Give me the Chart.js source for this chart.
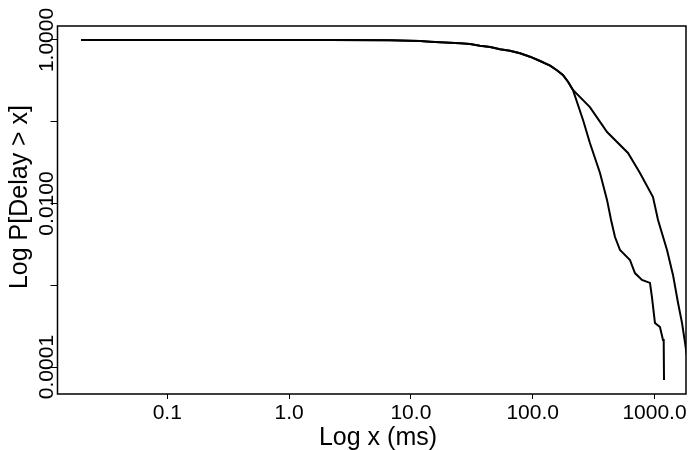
<!DOCTYPE html>
<html>
<head>
<meta charset="utf-8">
<title>Log P[Delay > x]</title>
<script src="https://cdn.jsdelivr.net/npm/chart.js@4/dist/chart.umd.min.js"></script>
<style>
    body { margin: 0; background: #ffffff; }
    canvas { display: block; }
</style>
</head>
<body>
<canvas id="chart" width="698" height="450"></canvas>
<script>
// delay (ms) and P[Delay > x], common part before the two curves split
const sharedDelay = [0.0196, 0.1, 1, 2.17, 6.7, 11.9, 14.4, 20.9, 25.4, 30.6, 36.9, 44.8, 53.9, 65, 78.7, 95, 115, 139, 158, 177, 195, 214];
const sharedProb  = [1.0, 1.0, 1.0, 1.0, 0.99, 0.972, 0.953, 0.927, 0.911, 0.893, 0.852, 0.821, 0.77, 0.74, 0.687, 0.625, 0.553, 0.485, 0.426, 0.373, 0.309, 0.245];

// steeper tail
const fastDelay = [259, 295, 357, 408, 440, 474, 521, 629, 691, 789, 918, 953, 1009, 1109, 1174, 1190, 1197];
const fastProb  = [0.105, 0.055, 0.0236, 0.011, 0.00628, 0.00389, 0.0027, 0.00204, 0.00141, 0.00116, 0.00107, 0.000718, 0.000345, 0.000308, 0.000214, 0.000214, 0.0000693];

// slower tail
const slowDelay = [295, 408, 606, 760, 972, 1069, 1267, 1420, 1561, 1683, 1782, 1849];
const slowProb  = [0.151, 0.0749, 0.0415, 0.0236, 0.012, 0.00628, 0.0027, 0.00133, 0.000607, 0.000345, 0.000197, 0.000133];

// axis ticks
const xTicks = [0.1, 1, 10, 100, 1000];
const xTickLabels = ['0.1', '1.0', '10.0', '100.0', '1000.0'];
const yTicks = [0.0001, 0.001, 0.01, 0.1, 1];
const yTickLabels = ['0.0001', '', '0.0100', '', '1.0000'];

const xTitle = 'Log x (ms)';
const yTitle = 'Log P[Delay > x]';

function toPoints(xs, ys) {
    return xs.map((x, i) => ({ x: x, y: ys[i] }));
}

const fastPoints = toPoints(sharedDelay.concat(fastDelay), sharedProb.concat(fastProb));
const slowPoints = toPoints(sharedDelay.concat(slowDelay), sharedProb.concat(slowProb));

const FONT = '"Liberation Sans", Arial, Helvetica, sans-serif';

// box, rotated y labels and both axis titles
const framePlugin = {
    id: 'frame',
    afterDraw(chart) {
        const ctx = chart.ctx;
        const area = chart.chartArea;
        const yScale = chart.scales.y;

        ctx.save();
        ctx.strokeStyle = '#000';
        ctx.lineWidth = 1.5;
        ctx.strokeRect(area.left, area.top, area.right - area.left, area.bottom - area.top);

        ctx.fillStyle = '#000';
        ctx.font = '21px ' + FONT;
        ctx.textAlign = 'center';
        ctx.textBaseline = 'alphabetic';
        yTicks.forEach((v, i) => {
            if (!yTickLabels[i]) return;
            const py = yScale.getPixelForValue(v);
            ctx.save();
            ctx.translate(52.5, py);
            ctx.rotate(-Math.PI / 2);
            ctx.fillText(yTickLabels[i], 0, 0);
            ctx.restore();
        });

        ctx.font = '25px ' + FONT;
        ctx.save();
        ctx.translate(27, 197);
        ctx.rotate(-Math.PI / 2);
        ctx.fillText(yTitle, 0, 0);
        ctx.restore();

        ctx.fillText(xTitle, 378, 445);
        ctx.restore();
    }
};

new Chart(document.getElementById('chart'), {
    type: 'line',
    data: {
        datasets: [
            {
                label: 'fast',
                data: fastPoints,
                borderColor: '#000',
                borderWidth: 2,
                pointRadius: 0,
                fill: false,
                tension: 0
            },
            {
                label: 'slow',
                data: slowPoints,
                borderColor: '#000',
                borderWidth: 2,
                pointRadius: 0,
                fill: false,
                tension: 0
            }
        ]
    },
    options: {
        responsive: false,
        animation: false,
        devicePixelRatio: 1,
        layout: { padding: { top: 26, right: 12, left: 0, bottom: 0 } },
        plugins: {
            legend: { display: false },
            tooltip: { enabled: false }
        },
        scales: {
            x: {
                type: 'logarithmic',
                min: 0.01256,
                max: 1814,
                afterBuildTicks: scale => {
                    scale.ticks = xTicks.map(v => ({ value: v }));
                },
                afterFit: scale => { scale.height = 56; },
                border: { display: false },
                grid: {
                    drawOnChartArea: false,
                    drawTicks: true,
                    tickLength: 5,
                    color: '#000',
                    lineWidth: 1
                },
                ticks: {
                    autoSkip: false,
                    maxRotation: 0,
                    minRotation: 0,
                    padding: 2,
                    color: '#000',
                    font: { family: FONT, size: 21 },
                    callback: (value, index) => xTickLabels[index]
                }
            },
            y: {
                type: 'logarithmic',
                min: 0.0000468,
                max: 1.483,
                afterBuildTicks: scale => {
                    scale.ticks = yTicks.map(v => ({ value: v }));
                },
                afterFit: scale => { scale.width = 57.5; },
                border: { display: false },
                grid: {
                    drawOnChartArea: false,
                    drawTicks: true,
                    tickLength: 7,
                    color: '#000',
                    lineWidth: 1
                },
                ticks: {
                    display: false
                }
            }
        }
    },
    plugins: [framePlugin]
});
</script>
</body>
</html>
